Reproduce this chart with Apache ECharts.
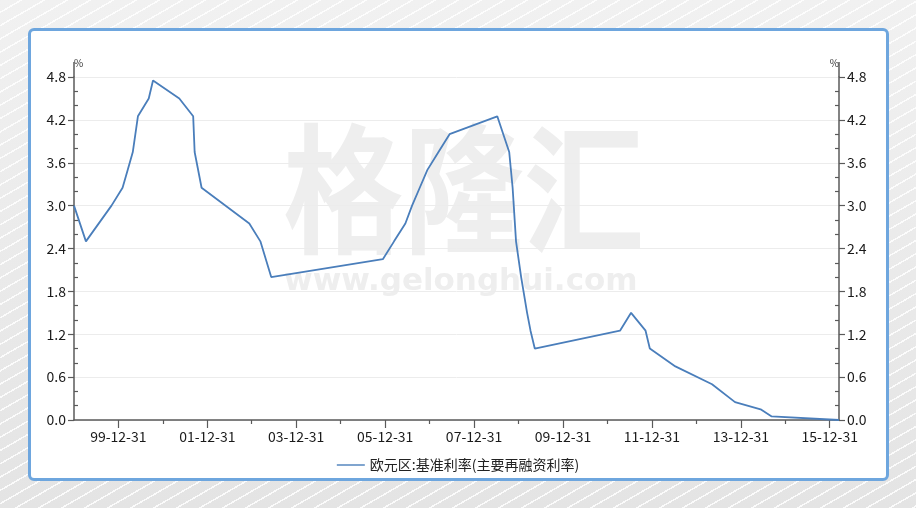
<!DOCTYPE html>
<html>
<head>
<meta charset="utf-8">
<script src="https://cdn.jsdelivr.net/npm/echarts@6/dist/echarts.min.js"></script>
<style>
  html, body { margin: 0; padding: 0; }
  body {
    width: 916px; height: 508px; overflow: hidden; position: relative;
    background:
      repeating-linear-gradient(150deg, rgba(255,255,255,0) 0 10px, rgba(255,255,255,0.85) 10px 11.5px),
      linear-gradient(180deg, #f1f1f1 0%, #e4e4e4 100%);
  }
  #panel {
    position: absolute; left: 28px; top: 28px; width: 855px; height: 447px;
    border: 3px solid #6ea6de; border-radius: 6px; background: #fff;
  }
  #chart { position: absolute; left: 0; top: 0; width: 916px; height: 508px; }
</style>
</head>
<body>
<div id="panel"></div>
<div id="chart"></div>
<script>
  // 欧元区 主要再融资利率 调整日期与利率(%)
  const dates = ['1999-01-01', '1999-04-09', '1999-11-05', '2000-02-04', '2000-03-17', '2000-04-28',
    '2000-06-09', '2000-09-06', '2000-10-11', '2001-05-15', '2001-09-06', '2001-09-18', '2001-11-14',
    '2002-12-11', '2003-03-12', '2003-06-09', '2005-12-12', '2006-03-14', '2006-06-15', '2006-08-09',
    '2006-10-11', '2006-12-13', '2007-03-14', '2007-06-13', '2008-07-09', '2008-10-15', '2008-11-12',
    '2008-12-10', '2009-01-21', '2009-03-11', '2009-04-08', '2009-05-13', '2011-04-13', '2011-07-13',
    '2011-11-09', '2011-12-14', '2012-07-11', '2013-05-08', '2013-11-13', '2014-06-11', '2014-09-10',
    '2016-03-16'];
  const rates = [3.00, 2.50, 3.00, 3.25, 3.50, 3.75,
    4.25, 4.50, 4.75, 4.50, 4.25, 3.75, 3.25,
    2.75, 2.50, 2.00, 2.25, 2.50, 2.75, 3.00,
    3.25, 3.50, 3.75, 4.00, 4.25, 3.75, 3.25,
    2.50, 2.00, 1.50, 1.25, 1.00, 1.25, 1.50,
    1.25, 1.00, 0.75, 0.50, 0.25, 0.15, 0.05,
    0.00];
  const seriesName = '欧元区:基准利率(主要再融资利率)';

  const xLabelDates = ['1999-12-31', '2001-12-31', '2003-12-31', '2005-12-31', '2007-12-31',
    '2009-12-31', '2011-12-31', '2013-12-31', '2015-12-31'];
  const xMinorDates = ['2000-12-31', '2002-12-31', '2004-12-31', '2006-12-31', '2008-12-31',
    '2010-12-31', '2012-12-31', '2014-12-31'];
  const yMinorTicks = [0.2, 0.4, 0.8, 1.0, 1.4, 1.6, 2.0, 2.2, 2.6, 2.8, 3.2, 3.4, 3.8, 4.0, 4.4, 4.6];

  const toTime = s => { const p = s.split('-'); return new Date(+p[0], +p[1] - 1, +p[2]).getTime(); };
  const lineData = dates.map((d, i) => [toTime(d), rates[i]]);

  const font = '"Noto Sans CJK SC", "Noto Sans", sans-serif';
  const axisColor = '#5a5a5a';
  const xMin = toTime(dates[0]);
  const xMax = toTime(dates[dates.length - 1]);

  const chart = echarts.init(document.getElementById('chart'));

  const mainY = (pos) => ({
    type: 'value',
    position: pos,
    min: 0,
    max: 4.8,
    interval: 0.6,
    name: '%',
    nameLocation: 'end',
    nameGap: 9,
    nameTextStyle: { fontSize: 10, color: '#333', fontFamily: font, align: pos === 'left' ? 'left' : 'right' },
    axisLine: {
      show: true,
      lineStyle: { color: axisColor, width: 1.5 },
      symbol: ['none', 'rect'],
      symbolSize: [1.5, 15],
      symbolOffset: [0, 7.5]
    },
    axisTick: { show: true, length: 6, lineStyle: { color: axisColor, width: 1.2 } },
    axisLabel: {
      margin: 8,
      fontSize: 14,
      color: '#1a1a1a',
      fontFamily: font,
      formatter: v => v.toFixed(1)
    },
    splitLine: { show: pos === 'left', lineStyle: { color: '#ececec', width: 1 } }
  });

  const minorY = (pos) => ({
    type: 'value',
    position: pos,
    min: 0,
    max: 4.8,
    interval: 0.6,
    axisLine: { show: false },
    axisLabel: { show: false },
    splitLine: { show: false },
    axisTick: {
      show: true, inside: true, length: 4,
      customValues: yMinorTicks,
      lineStyle: { color: axisColor, width: 1.2 }
    }
  });

  const fmtDate = v => {
    const d = new Date(v);
    const yy = String(d.getFullYear()).slice(2);
    const mm = String(d.getMonth() + 1).padStart(2, '0');
    const dd = String(d.getDate()).padStart(2, '0');
    return yy + '-' + mm + '-' + dd;
  };

  const option = {
    animation: false,
    textStyle: { fontFamily: font },
    grid: { left: 74, right: 77, top: 77, bottom: 88 },
    legend: {
      data: [seriesName],
      bottom: 31,
      left: 'center',
      itemWidth: 28,
      itemHeight: 10,
      itemGap: 10,
      icon: 'path://M0,4.3 L28,4.3 L28,5.7 L0,5.7 Z',
      textStyle: { fontSize: 14, color: '#222', fontFamily: font }
    },
    graphic: [
      {
        type: 'text', left: 283, top: 119, z: -10, silent: true, scaleX: 0.86,
        style: { text: '格隆汇', fontSize: 140, fontFamily: font, fontWeight: 'bold', fill: '#eeeeee' }
      },
      {
        type: 'text', left: 284, top: 266, z: -10, silent: true,
        style: { text: 'www.gelonghui.com', fontSize: 31, fontFamily: '"DejaVu Sans", sans-serif', fontWeight: 'bold', fill: '#eeeeee' }
      }
    ],
    xAxis: [
      {
        type: 'value',
        min: xMin,
        max: xMax,
        axisLine: { show: true, lineStyle: { color: axisColor, width: 1.5 } },
        axisTick: {
          show: true, length: 8,
          customValues: xLabelDates.map(toTime),
          lineStyle: { color: axisColor, width: 1.2 }
        },
        axisLabel: {
          margin: 10,
          fontSize: 14,
          color: '#1a1a1a',
          fontFamily: font,
          customValues: xLabelDates.map(toTime),
          formatter: fmtDate
        },
        splitLine: { show: false }
      },
      {
        type: 'value',
        min: xMin,
        max: xMax,
        position: 'bottom',
        axisLine: { show: false },
        axisLabel: { show: false },
        splitLine: { show: false },
        axisTick: {
          show: true, length: 4,
          customValues: xMinorDates.map(toTime),
          lineStyle: { color: axisColor, width: 1.2 }
        }
      }
    ],
    yAxis: [mainY('left'), mainY('right'), minorY('left'), minorY('right')],
    series: [
      {
        name: seriesName,
        type: 'line',
        data: lineData,
        showSymbol: false,
        symbol: 'none',
        itemStyle: { color: '#4a7ebb' },
        lineStyle: { color: '#4a7ebb', width: 1.8 },
        z: 5
      }
    ]
  };

  chart.setOption(option);
</script>
</body>
</html>
